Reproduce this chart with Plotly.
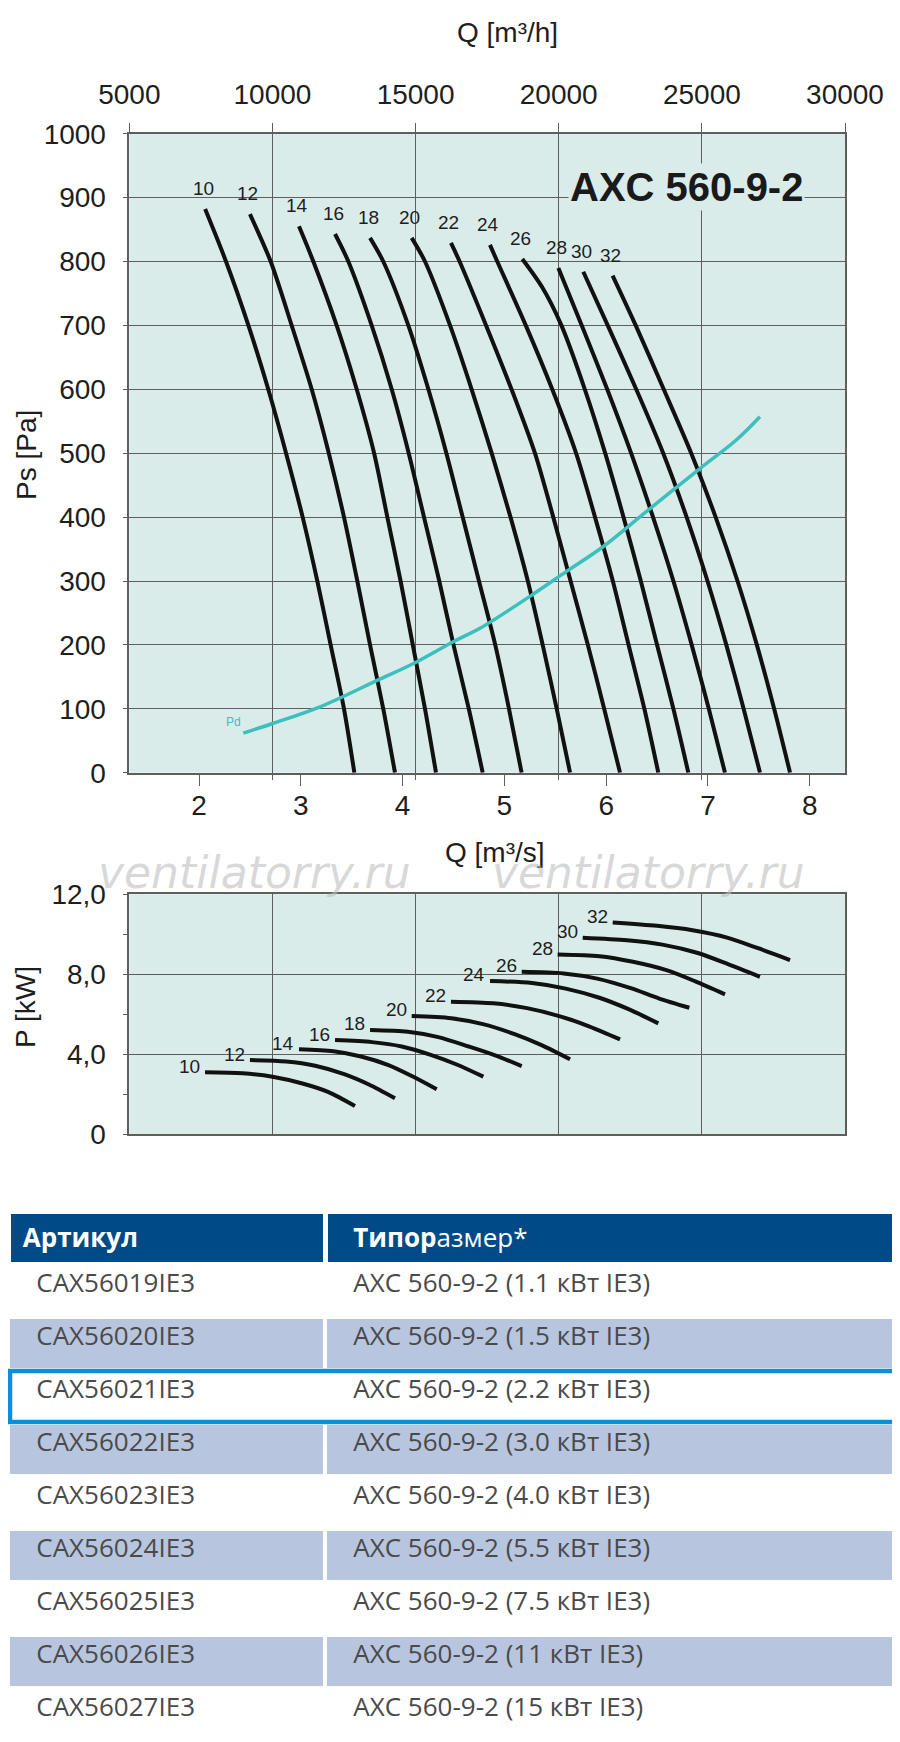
import plotly.graph_objects as go

# the page body keeps an 8 px margin, so the figure is 8 px smaller than the window
OFF = 8
W, H = 900 - OFF, 1742 - OFF

# blade angle settings, one curve each
angles = ["10", "12", "14", "16", "18", "20", "22", "24", "26", "28", "30", "32"]

# static pressure curves, Q [m3/s] and Ps [Pa]
ps_q = [
    [2.06, 2.265, 2.485, 2.68, 2.855, 3.018, 3.162, 3.293, 3.424, 3.526],
    [2.50, 2.704, 2.91, 3.107, 3.275, 3.424, 3.555, 3.68, 3.81, 3.925],
    [2.982, 3.123, 3.352, 3.549, 3.72, 3.85, 3.98, 4.10, 4.22, 4.328],
    [3.336, 3.467, 3.696, 3.893, 4.06, 4.21, 4.36, 4.50, 4.65, 4.787],
    [3.68, 3.81, 4.056, 4.253, 4.43, 4.59, 4.75, 4.91, 5.045, 5.169],
    [4.089, 4.22, 4.466, 4.678, 4.875, 5.06, 5.23, 5.376, 5.514, 5.645],
    [4.475, 4.56, 4.82, 5.07, 5.30, 5.48, 5.65, 5.82, 5.98, 6.136],
    [4.858, 4.93, 5.21, 5.47, 5.704, 5.89, 6.065, 6.22, 6.375, 6.512],
    [5.176, 5.37, 5.56, 5.79, 5.99, 6.17, 6.34, 6.50, 6.66, 6.807],
    [5.53, 5.76, 6.01, 6.245, 6.46, 6.66, 6.84, 7.008, 7.167],
    [5.775, 6.015, 6.295, 6.56, 6.79, 6.995, 7.18, 7.35, 7.511],
    [6.063, 6.29, 6.565, 6.835, 7.075, 7.29, 7.48, 7.65, 7.806],
]
ps_val = [
    [882, 800, 700, 600, 500, 400, 300, 200, 100, 0],
    [874, 800, 700, 600, 500, 400, 300, 200, 100, 0],
    [855, 800, 700, 600, 500, 400, 300, 200, 100, 0],
    [843, 800, 700, 600, 500, 400, 300, 200, 100, 0],
    [837, 800, 700, 600, 500, 400, 300, 200, 100, 0],
    [837, 800, 700, 600, 500, 400, 300, 200, 100, 0],
    [829, 800, 700, 600, 500, 400, 300, 200, 100, 0],
    [826, 800, 700, 600, 500, 400, 300, 200, 100, 0],
    [804, 760, 700, 600, 500, 400, 300, 200, 100, 0],
    [790, 700, 600, 500, 400, 300, 200, 100, 0],
    [784, 700, 600, 500, 400, 300, 200, 100, 0],
    [778, 700, 600, 500, 400, 300, 200, 100, 0],
]

# dynamic pressure
pd_q = [2.435, 2.724, 3.189, 3.745, 4.122, 4.498, 4.76, 5.251, 5.611, 5.972, 6.397, 6.921, 7.281, 7.51]
pd_val = [62, 77, 103, 144, 172, 205, 226, 276, 315, 354, 409, 476, 521, 557]

# shaft power curves, Q [m3/s] and P [kW]
pw_q = [
    [2.059, 2.427, 2.722, 3.016, 3.267, 3.532],
    [2.50, 2.856, 3.141, 3.426, 3.669, 3.925],
    [2.982, 3.32, 3.591, 3.861, 4.091, 4.335],
    [3.336, 3.70, 3.992, 4.283, 4.531, 4.793],
    [3.68, 4.053, 4.351, 4.649, 4.902, 5.17],
    [4.089, 4.478, 4.789, 5.10, 5.365, 5.645],
    [4.475, 4.89, 5.222, 5.555, 5.837, 6.136],
    [4.859, 5.272, 5.603, 5.933, 6.214, 6.512],
    [5.17, 5.582, 5.911, 6.241, 6.521, 6.817],
    [5.523, 5.934, 6.263, 6.592, 6.871, 7.167],
    [5.769, 6.204, 6.552, 6.9, 7.197, 7.51],
    [6.064, 6.50, 6.848, 7.196, 7.492, 7.806],
]
pw_val = [
    [3.09, 3.04, 2.87, 2.53, 2.11, 1.40],
    [3.70, 3.63, 3.42, 3.00, 2.48, 1.79],
    [4.24, 4.14, 3.88, 3.45, 2.90, 2.24],
    [4.70, 4.60, 4.38, 3.95, 3.48, 2.87],
    [5.21, 5.12, 4.85, 4.38, 3.95, 3.40],
    [5.91, 5.80, 5.50, 5.00, 4.45, 3.74],
    [6.62, 6.54, 6.30, 5.88, 5.38, 4.74],
    [7.66, 7.56, 7.28, 6.82, 6.26, 5.54],
    [8.12, 8.04, 7.78, 7.30, 6.78, 6.32],
    [8.99, 8.90, 8.62, 8.20, 7.65, 6.99],
    [9.83, 9.70, 9.48, 9.06, 8.50, 7.87],
    [10.59, 10.42, 10.20, 9.82, 9.30, 8.71],
]

# table
articles = ["CAX56019IE3", "CAX56020IE3", "CAX56021IE3", "CAX56022IE3", "CAX56023IE3",
            "CAX56024IE3", "CAX56025IE3", "CAX56026IE3", "CAX56027IE3"]
motor_kw = ["1.1", "1.5", "2.2", "3.0", "4.0", "5.5", "7.5", "11", "15"]
model = "AXC 560-9-2"
selected = 2  # highlighted row


# window pixel -> paper fraction
def px(x):
    return max(0.0, (x - OFF) / W)


def py(y):
    return 1 - (y - OFF) / H


BG = "#d9ecea"
GRID = "#5e5e5e"
FONT = "Liberation Sans"
TICKF = dict(family=FONT, size=28, color="#1e1e1e")
TEAL = "#3cbfbd"
PAD = "\u00a0\u00a0\u00a0"

fig = go.Figure()

# upper chart: Ps curves
for name, q, p in zip(angles, ps_q, ps_val):
    fig.add_trace(go.Scatter(x=q, y=p, mode="lines", xaxis="x", yaxis="y",
                             line=dict(color="#111111", width=4, shape="spline", smoothing=0.8),
                             showlegend=False, hoverinfo="skip"))
    fig.add_annotation(x=q[0], y=p[0], xref="x", yref="y", text=name, showarrow=False,
                       xanchor="center", yanchor="bottom", yshift=8, xshift=-2,
                       font=dict(family=FONT, size=19, color="#1e1e1e"))

fig.add_trace(go.Scatter(x=pd_q, y=pd_val, mode="lines", xaxis="x", yaxis="y",
                         line=dict(color=TEAL, width=3.5, shape="spline"),
                         showlegend=False, hoverinfo="skip"))
fig.add_annotation(x=pd_q[0], y=pd_val[0], xref="x", yref="y", text="Pd", showarrow=False,
                   xanchor="right", yanchor="bottom", xshift=0, yshift=2,
                   font=dict(family=FONT, size=12, color=TEAL))

# lower chart: power curves
for name, q, p in zip(angles, pw_q, pw_val):
    fig.add_trace(go.Scatter(x=q, y=p, mode="lines", xaxis="x3", yaxis="y2",
                             line=dict(color="#111111", width=4, shape="spline", smoothing=0.8),
                             showlegend=False, hoverinfo="skip"))
    fig.add_annotation(x=q[0], y=p[0], xref="x3", yref="y2", text=name, showarrow=False,
                       xanchor="right", yanchor="middle", xshift=-3, yshift=6,
                       font=dict(family=FONT, size=19, color="#1e1e1e"))

# empty traces so the overlay axes (m3/h) are drawn
for xa, ya in [("x2", "y"), ("x4", "y2"), ("x5", "y")]:
    fig.add_trace(go.Scatter(x=[], y=[], xaxis=xa, yaxis=ya, showlegend=False))

# table
rows_fill = ["#ffffff" if i % 2 == 0 else "#b8c5de" for i in range(len(articles))]
fig.add_trace(go.Table(
    domain=dict(x=[px(3), 1.0], y=[py(1741), py(1211)]),
    columnwidth=[317, 575],
    header=dict(values=["\u00a0<b>Артикул</b>", PAD + "<b>Типор</b>азмер*"],
                fill_color="#004a87", align="left", height=53,
                line=dict(color="white", width=5),
                font=dict(family="Open Sans", size=26, color="white")),
    cells=dict(values=[[PAD + a for a in articles],
                       [PAD + f"{model} ({kw} кВт IE3)" for kw in motor_kw]],
               fill_color=[rows_fill, rows_fill], align="left", height=53,
               line=dict(color="white", width=4),
               font=dict(family="Open Sans", size=26, color="#4a4a4a")),
))

xdom = [px(129.3), px(845)]
qs_range = [1.315, 8.346]
qh_range = [5000, 30000]

fig.update_layout(
    width=W, height=H,
    margin=dict(l=0, r=0, t=0, b=0, autoexpand=False),
    paper_bgcolor="white", plot_bgcolor=BG,
    showlegend=False,
    xaxis=dict(domain=xdom, range=qs_range, anchor="y", tickvals=[2, 3, 4, 5, 6, 7, 8],
               ticks="outside", ticklen=12, tickwidth=1.3, tickcolor=GRID,
               ticklabelstandoff=-5, automargin=False,
               showgrid=False, zeroline=False, showline=True, linecolor=GRID, linewidth=1.5,
               tickfont=TICKF),
    xaxis2=dict(overlaying="x", side="top", anchor="y", range=qh_range, dtick=5000,
                tickformat="d", automargin=False,
                ticks="outside", ticklen=9, tickwidth=1.3, tickcolor=GRID,
                ticklabelstandoff=8,
                showgrid=True, gridcolor=GRID, gridwidth=1.3, zeroline=False,
                showline=True, linecolor=GRID, linewidth=1.5, tickfont=TICKF),
    xaxis5=dict(overlaying="x", side="bottom", anchor="y", range=qh_range,
                tickvals=[10000, 15000, 20000, 25000], ticks="outside", ticklen=6,
                tickwidth=1.3, tickcolor=GRID, showticklabels=False, showgrid=False,
                zeroline=False, automargin=False),
    yaxis=dict(domain=[py(772.7), py(133.7)], range=[0, 1000], dtick=100, anchor="x",
               ticks="outside", ticklen=5, tickwidth=1.3, tickcolor=GRID,
               ticklabelstandoff=11, automargin=False,
               showgrid=True, gridcolor=GRID, gridwidth=1.3, zeroline=False,
               showline=True, mirror=True, linecolor=GRID, linewidth=1.5, tickfont=TICKF),
    xaxis3=dict(domain=xdom, range=qs_range, anchor="y2", showticklabels=False, ticks="",
                showgrid=False, zeroline=False, showline=True, mirror=True,
                linecolor=GRID, linewidth=1.5, automargin=False),
    xaxis4=dict(overlaying="x3", anchor="y2", range=qh_range, dtick=5000,
                showticklabels=False, ticks="", showgrid=True, gridcolor=GRID,
                gridwidth=1.3, zeroline=False, automargin=False),
    yaxis2=dict(domain=[py(1134), py(894.3)], range=[0, 12], anchor="x3",
                tickvals=[0, 4, 8, 12], ticktext=["0", "4,0", "8,0", "12,0"],
                ticks="outside", ticklen=5, tickwidth=1.3, tickcolor=GRID,
                ticklabelstandoff=11, automargin=False,
                minor=dict(tickvals=[2, 6, 10], ticks="outside", ticklen=5,
                           tickcolor=GRID, showgrid=False),
                showgrid=True, gridcolor=GRID, gridwidth=1.3, zeroline=False,
                showline=True, mirror=True, linecolor=GRID, linewidth=1.5, tickfont=TICKF),
)

ann = dict(xref="paper", yref="paper", showarrow=False, xanchor="center", yanchor="middle")
fig.add_annotation(x=px(508), y=py(33), text="Q [m³/h]", font=TICKF, **ann)
fig.add_annotation(x=px(495), y=py(852), text="Q [m³/s]", font=TICKF, **ann)
fig.add_annotation(x=px(26), y=py(455), text="Ps [Pa]", textangle=-90, font=TICKF, **ann)
fig.add_annotation(x=px(26), y=py(1007), text="P [kW]", textangle=-90, font=TICKF, **ann)
fig.add_annotation(x=px(686), y=py(187), text="<b>AXC 560-9-2</b>", bgcolor=BG,
                   font=dict(family=FONT, size=40, color="#1a1a1a"), **ann)
for wx in [254, 648]:
    fig.add_annotation(x=px(wx), y=py(872), text="<i>ventilatorry.ru</i>",
                       font=dict(family="DejaVu Sans", size=44, color="rgba(190,190,190,0.6)"),
                       **ann)

# highlighted row frame
row_top = 1264 + 53 * selected
fig.add_shape(type="rect", xref="paper", yref="paper", layer="above",
              x0=px(10), x1=px(896), y0=py(row_top + 1), y1=py(row_top + 52),
              line=dict(color="#0a8fdc", width=4.5), fillcolor="rgba(0,0,0,0)")

fig.write_html("out.html")
